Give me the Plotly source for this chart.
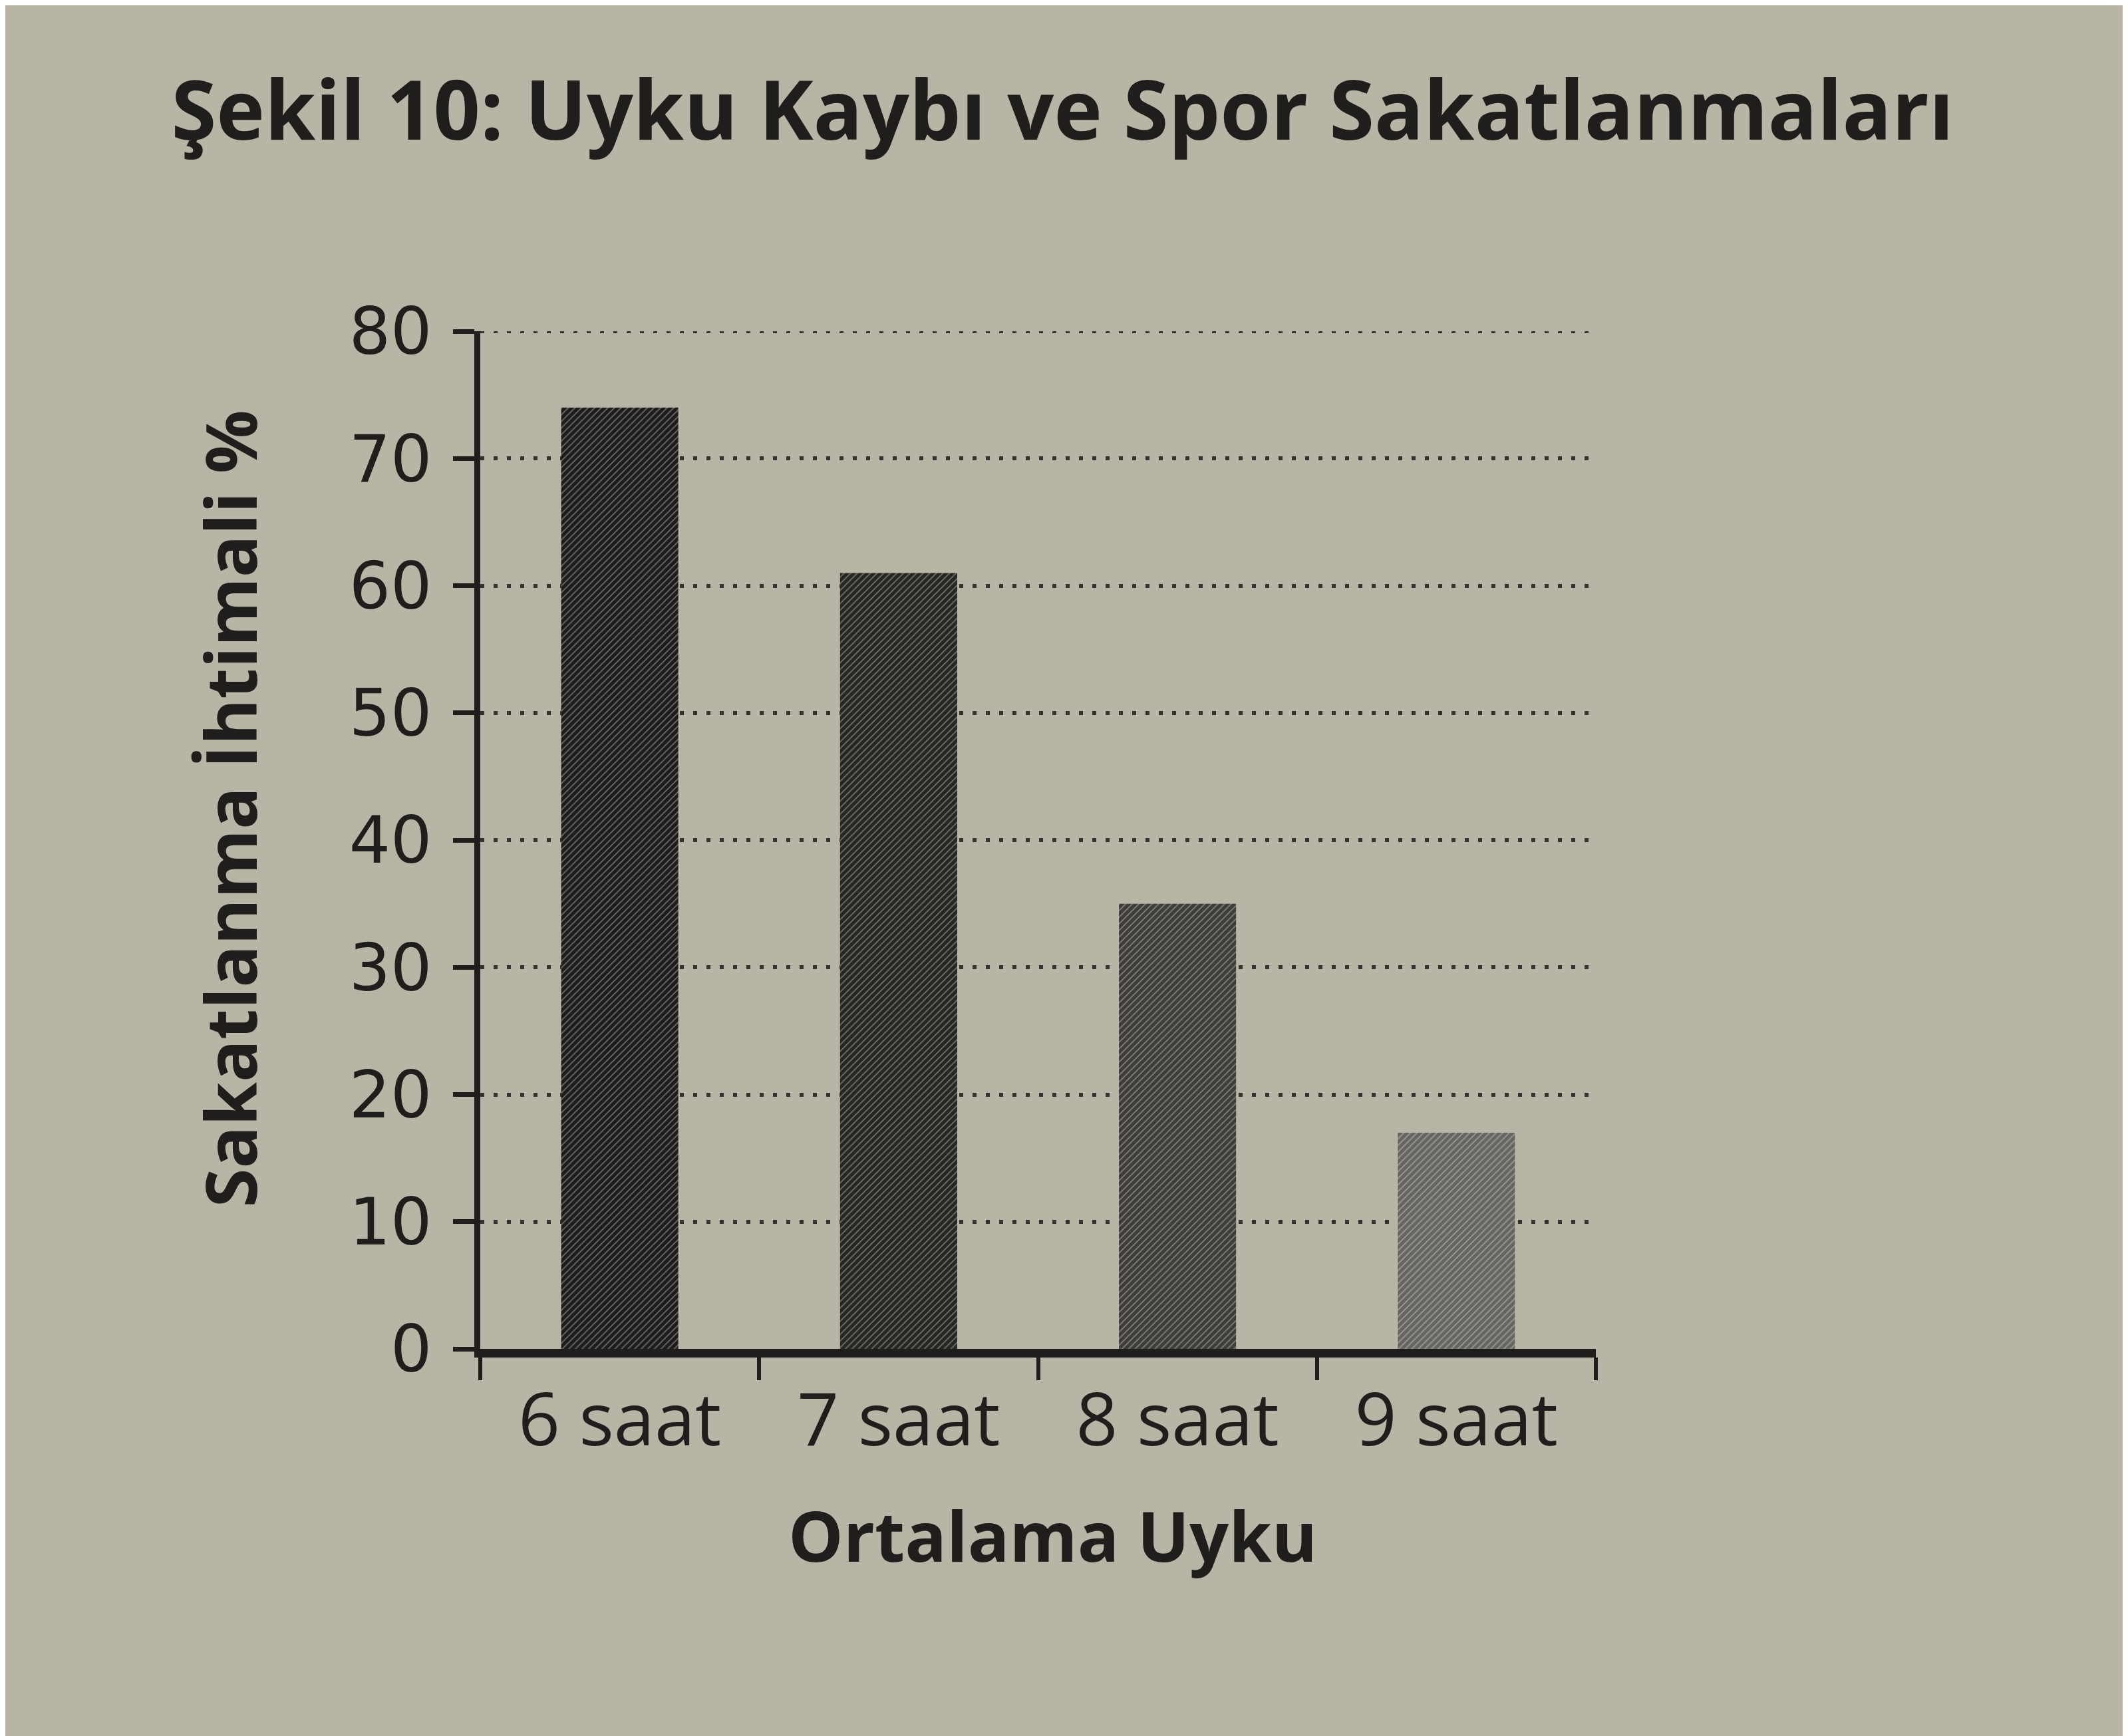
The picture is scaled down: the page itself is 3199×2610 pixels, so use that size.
import plotly.graph_objects as go

categories = ["6 saat", "7 saat", "8 saat", "9 saat"]
values = [74, 61, 35, 17]
bar_colors = ["#1d1c1a", "#262522", "#3d3c38", "#67655f"]
y_ticks = [0, 10, 20, 30, 40, 50, 60, 70, 80]

W, H = 3199, 2610
L, R, T, B = 714, 3199 - 2391, 490, 2610 - 2020
bg = "#b9b5a6"
ink = "#1f1e1c"
grid_col = "#34332f"
grid_dash = "6px,14px"

fig = go.Figure()
fig.add_trace(go.Bar(
    x=categories, y=values, width=0.42,
    marker=dict(color=bar_colors, line=dict(width=0),
                pattern=dict(shape="/", size=7, solidity=0.25,
                             fgcolor="#151412", fgopacity=0.35)),
))

fig.update_layout(
    width=W, height=H, autosize=False,
    margin=dict(l=L, r=R, t=T, b=B, pad=0),
    paper_bgcolor=bg, plot_bgcolor=bg,
    showlegend=False,
    title=dict(text="<b>Şekil 10: Uyku Kaybı ve Spor Sakatlanmaları</b>",
               x=0.078, xanchor="left", xref="container",
               y=0.939, yanchor="middle", yref="container",
               font=dict(family="Open Sans", size=123, color=ink)),
)

fig.update_xaxes(
    showline=True, linewidth=13, linecolor=ink,
    ticks="outside", tickson="boundaries", ticklen=34, tickwidth=6, tickcolor=ink,
    tickfont=dict(family="Open Sans", size=110, color=ink),
    showgrid=False, zeroline=False,
)
fig.update_yaxes(
    range=[0, 80], tickvals=y_ticks,
    showline=True, linewidth=9, linecolor=ink,
    ticks="outside", ticklen=32, tickwidth=7, tickcolor=ink,
    tickfont=dict(family="DejaVu Sans", size=98, color=ink),
    ticklabelstandoff=12,
    showgrid=True, gridcolor=grid_col, gridwidth=6, griddash=grid_dash,
    zeroline=False,
)

# top gridline (Plotly omits the grid line that sits on the plot edge)
fig.add_shape(type="line", xref="paper", x0=0, x1=1, yref="y",
              y0=y_ticks[-1], y1=y_ticks[-1],
              line=dict(color=grid_col, width=6, dash=grid_dash), layer="below")

fig.add_annotation(text="<b>Sakatlanma İhtimali %</b>", textangle=-90,
                   xref="paper", yref="paper", x=-0.225, y=0.531,
                   xanchor="center", yanchor="middle", showarrow=False,
                   font=dict(family="Open Sans", size=106, color=ink))
fig.add_annotation(text="<b>Ortalama Uyku</b>",
                   xref="paper", yref="paper", x=0.513, y=-0.183,
                   xanchor="center", yanchor="middle", showarrow=False,
                   font=dict(family="Open Sans", size=104, color=ink))

fig.write_html("out.html")
